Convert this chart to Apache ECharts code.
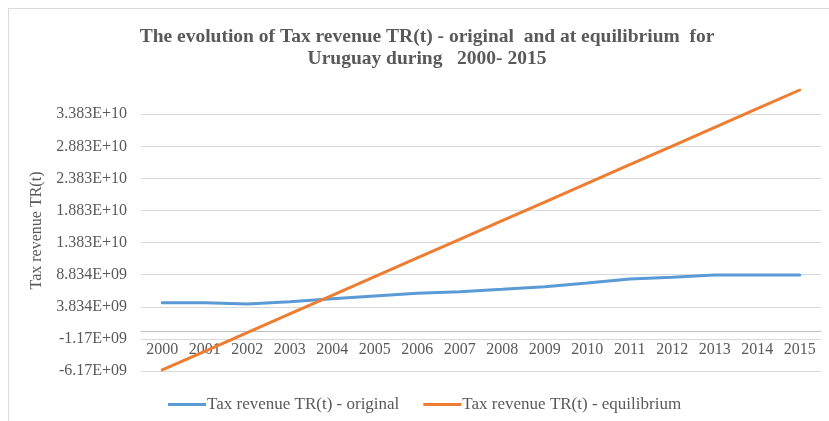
<!DOCTYPE html>
<html>
<head>
<meta charset="utf-8">
<script src="https://cdn.jsdelivr.net/npm/echarts@6/dist/echarts.min.js"></script>
<style>
  html, body { margin: 0; padding: 0; background: #ffffff; }
  #chart { width: 829px; height: 421px; }
</style>
</head>
<body>
<div id="chart"></div>
<script>
// Years on the category axis
var years = ['2000', '2001', '2002', '2003', '2004', '2005', '2006', '2007',
             '2008', '2009', '2010', '2011', '2012', '2013', '2014', '2015'];

// Tax revenue TR(t), original series
var trOriginal = [4.48e9, 4.48e9, 4.27e9, 4.63e9, 5.10e9, 5.52e9, 5.94e9, 6.19e9,
                  6.56e9, 6.97e9, 7.55e9, 8.17e9, 8.43e9, 8.79e9, 8.79e9, 8.80e9];

// Tax revenue TR(t), equilibrium series
var trEquilibrium = [-6.00e9, -3.09e9, -0.19e9, 2.72e9, 5.63e9, 8.54e9, 11.44e9, 14.35e9,
                     17.26e9, 20.16e9, 23.07e9, 25.98e9, 28.88e9, 31.79e9, 34.70e9, 37.61e9];

// Value axis settings
var yMin = -6.166e9;
var yMax = 37.61e9;
var yStep = 5e9;

var seriesNames = ['Tax revenue TR(t) - original', 'Tax revenue TR(t) - equilibrium'];

// Scientific tick text: 4 significant digits, 3 for negatives
function fmtTick(v) {
  var e = Math.floor(Math.log10(Math.abs(v)));
  var m = v / Math.pow(10, e);
  var s = m < 0 ? m.toFixed(2) : m.toFixed(3);
  return s + 'E' + (e >= 0 ? '+' : '-') + (Math.abs(e) < 10 ? '0' : '') + Math.abs(e);
}

var serif = '"Liberation Serif", "Times New Roman", serif';
var chart = echarts.init(document.getElementById('chart'));

// pixel height of the plot and the value-to-pixel ratio, used to lift the
// category axis up to the zero line
var gridTop = 90, gridBottom = 50, chartH = 421;
var plotH = chartH - gridTop - gridBottom;
var zeroLift = -plotH * (0 - yMin) / (yMax - yMin);

chart.setOption({
  backgroundColor: '#ffffff',
  animation: false,
  graphic: [{
    type: 'rect',
    shape: { x: 8.5, y: 8.5, width: 900, height: 500 },
    style: { fill: 'none', stroke: '#d9d9d9', lineWidth: 1 },
    silent: true
  }],
  title: {
    text: 'The evolution of Tax revenue TR(t) - original  and at equilibrium  for\nUruguay during   2000- 2015',
    left: 422,
    textAlign: 'center',
    top: 21,
    textStyle: {
      fontFamily: serif,
      fontWeight: 'bold',
      fontSize: 19.5,
      color: '#595959',
      lineHeight: 22
    }
  },
  legend: {
    left: 168,
    top: 396,
    padding: 0,
    itemWidth: 38,
    itemHeight: 3,
    itemGap: 24,
    icon: 'rect',
    textStyle: { fontFamily: serif, fontSize: 17, color: '#595959', padding: [0, 0, 0, -4] },
    data: seriesNames
  },
  grid: { left: 141, right: 8, top: gridTop, bottom: gridBottom },
  xAxis: {
    type: 'category',
    data: years,
    boundaryGap: true,
    offset: zeroLift,
    axisLine: { onZero: false, lineStyle: { color: '#bfbfbf', width: 1 } },
    axisTick: { show: false },
    axisLabel: { fontFamily: serif, fontSize: 16, color: '#595959', margin: 10 },
    splitLine: { show: false }
  },
  yAxis: {
    type: 'value',
    min: yMin,
    max: yMax,
    interval: yStep,
    name: 'Tax revenue TR(t)',
    nameLocation: 'middle',
    nameGap: 96,
    nameTextStyle: { fontFamily: serif, fontSize: 16, color: '#595959' },
    axisLine: { show: false },
    axisTick: { show: false },
    axisLabel: {
      fontFamily: serif, fontSize: 16, color: '#595959', margin: 14,
      showMaxLabel: false,
      formatter: function (v) {
        if (Math.abs(v - yMax) < 1) return '';
        return fmtTick(v);
      }
    },
    splitLine: { show: true, showMaxLine: false, lineStyle: { color: '#d9d9d9', width: 1 } }
  },
  series: [
    {
      name: seriesNames[0],
      type: 'line',
      data: trOriginal,
      showSymbol: false,
      symbol: 'none',
      lineStyle: { color: '#5b9bd5', width: 3, cap: 'round' },
      itemStyle: { color: '#5b9bd5' },
      z: 3
    },
    {
      name: seriesNames[1],
      type: 'line',
      data: trEquilibrium,
      showSymbol: false,
      symbol: 'none',
      lineStyle: { color: '#ed7d31', width: 3, cap: 'round' },
      itemStyle: { color: '#ed7d31' },
      z: 4
    }
  ]
});
</script>
</body>
</html>
